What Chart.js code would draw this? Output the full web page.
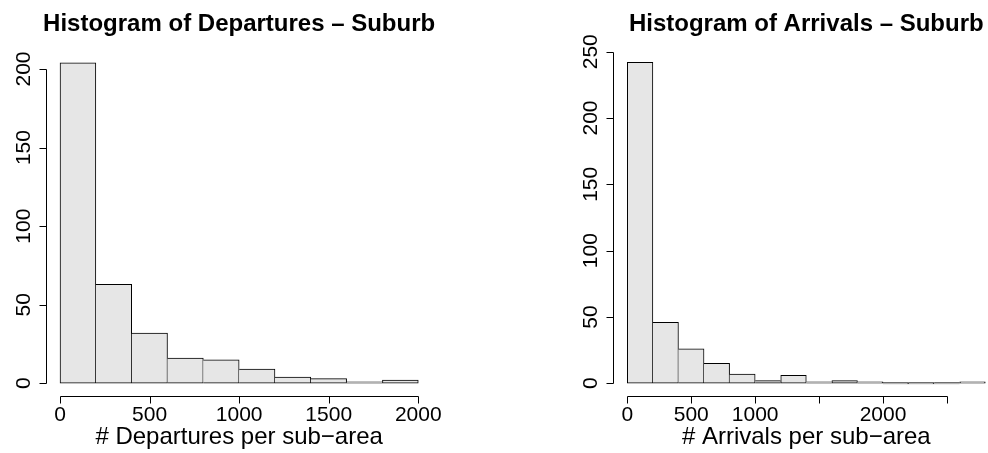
<!DOCTYPE html>
<html>
<head>
<meta charset="utf-8">
<script src="https://cdn.jsdelivr.net/npm/chart.js@4.4.1/dist/chart.umd.min.js"></script>
<style>
  html, body { margin: 0; padding: 0; background: #fff; }
  body { width: 988px; height: 453px; overflow: hidden; position: relative; }
  canvas { position: absolute; top: 0; }
  #dep { left: 0; }
  #arr { left: 494px; }
</style>
</head>
<body>
<canvas id="dep" width="494" height="453"></canvas>
<canvas id="arr" width="520" height="453"></canvas>
<script>
// Histogram bins (left edge of each bin, width 200)
const binWidth = 200;

// Departures - Suburb
const depBins = [0, 200, 400, 600, 800, 1000, 1200, 1400, 1600, 1800];
const depCounts = [204, 63, 32, 16, 15, 9, 4, 3, 1, 2];
const depXTicks = [0, 500, 1000, 1500, 2000];
const depXLabels = ['0', '500', '1000', '1500', '2000'];
const depYTicks = [0, 50, 100, 150, 200];

// Arrivals - Suburb
const arrBins = [0, 200, 400, 600, 800, 1000, 1200, 1400, 1600, 1800, 2000, 2200, 2400, 2600];
const arrCounts = [242, 46, 26, 15, 7, 2, 6, 1, 2, 1, 0, 0, 0, 1];
const arrXTicks = [0, 500, 1000, 1500, 2000, 2500];
const arrXLabels = ['0', '500', '1000', '', '2000', ''];   // R drops the labels that would overlap
const arrYTicks = [0, 50, 100, 150, 200, 250];

const FONT = '"Liberation Sans", Arial, Helvetica, sans-serif';

// R-ish axes, drawn detached from the plot region
const makeRAxes = (cfg) => ({
    id: 'rAxes',
    afterDraw(chart) {
        const { ctx, chartArea: a, scales: { x, y } } = chart;
        ctx.save();
        ctx.strokeStyle = '#000';
        ctx.fillStyle = '#000';
        ctx.lineWidth = 1;

        // x axis
        const ay = Math.round(a.bottom) + 0.5;
        ctx.beginPath();
        ctx.moveTo(Math.round(x.getPixelForValue(cfg.xTicks[0])) + 0.5, ay);
        ctx.lineTo(Math.round(x.getPixelForValue(cfg.xTicks[cfg.xTicks.length - 1])) + 0.5, ay);
        cfg.xTicks.forEach(v => {
            const px = Math.round(x.getPixelForValue(v)) + 0.5;
            ctx.moveTo(px, ay);
            ctx.lineTo(px, ay + 7);
        });
        // y axis
        const ax = Math.round(a.left) + 0.5;
        ctx.moveTo(ax, Math.round(y.getPixelForValue(cfg.yTicks[0])) + 0.5);
        ctx.lineTo(ax, Math.round(y.getPixelForValue(cfg.yTicks[cfg.yTicks.length - 1])) + 0.5);
        cfg.yTicks.forEach(v => {
            const py = Math.round(y.getPixelForValue(v)) + 0.5;
            ctx.moveTo(ax, py);
            ctx.lineTo(ax - 7, py);
        });
        ctx.stroke();

        // tick labels
        ctx.font = '21px ' + FONT;
        ctx.textAlign = 'center';
        ctx.textBaseline = 'alphabetic';
        cfg.xTicks.forEach((v, i) => {
            ctx.fillText(cfg.xLabels[i], x.getPixelForValue(v), a.bottom + 25);
        });
        cfg.yTicks.forEach(v => {
            ctx.save();
            ctx.translate(a.left - 16, y.getPixelForValue(v));
            ctx.rotate(-Math.PI / 2);
            ctx.fillText(String(v), 0, 0);
            ctx.restore();
        });

        const cx = (a.left + a.right) / 2;
        ctx.font = '24px ' + FONT;
        ctx.fillText(cfg.xTitle, cx, a.bottom + 48);

        ctx.font = 'bold 24px ' + FONT;
        ctx.fillText(cfg.title, cx, 31);
        ctx.restore();
    }
});

// R's default 4% range expansion
const expand = (lo, hi) => [lo - 0.04 * (hi - lo), hi + 0.04 * (hi - lo)];

const makeHist = (canvasId, bins, counts, cfg, padding) => {
    const [xMin, xMax] = expand(bins[0], bins[bins.length - 1] + binWidth);
    const [yMin, yMax] = expand(0, Math.max(...counts));
    return new Chart(document.getElementById(canvasId), {
        type: 'bar',
        data: {
            datasets: [{
                data: bins.map((b, i) => ({ x: b + binWidth / 2, y: counts[i] })),
                backgroundColor: '#E6E6E6',
                borderColor: '#000',
                borderSkipped: false,
                // shared edges belong to the taller bar, so each line is drawn once
                borderWidth: (c) => {
                    const i = c.dataIndex;
                    if (i === undefined) return 1;
                    return {
                        top: 1,
                        bottom: 1,
                        left: (i === 0 || counts[i] > counts[i - 1]) ? 1 : 0,
                        right: (i === counts.length - 1 || counts[i] >= counts[i + 1]) ? 1 : 0
                    };
                },
                minBarLength: 1.5,
                barPercentage: 1,
                categoryPercentage: 1
            }]
        },
        options: {
            responsive: false,
            animation: false,
            layout: { padding },
            plugins: { legend: { display: false }, tooltip: { enabled: false } },
            scales: {
                x: {
                    type: 'linear', min: xMin, max: xMax, display: false,
                    offset: false, grid: { offset: false },
                    afterBuildTicks: (s) => { s.ticks = cfg.xTicks.map(v => ({ value: v })); }
                },
                y: { type: 'linear', min: yMin, max: yMax, display: false }
            }
        },
        plugins: [makeRAxes(cfg)]
    });
};

makeHist('dep', depBins, depCounts, {
    title: 'Histogram of Departures \u2013 Suburb',
    xTitle: '# Departures per sub\u2212area',
    xTicks: depXTicks, xLabels: depXLabels, yTicks: depYTicks
}, { left: 45.7, right: 61.4, top: 49.9, bottom: 56.9 });

makeHist('arr', arrBins, arrCounts, {
    title: 'Histogram of Arrivals \u2013 Suburb',
    xTitle: '# Arrivals per sub\u2212area',
    xTicks: arrXTicks, xLabels: arrXLabels, yTicks: arrYTicks
}, { left: 119, right: 14.4, top: 49.5, bottom: 56.9 });
</script>
</body>
</html>
